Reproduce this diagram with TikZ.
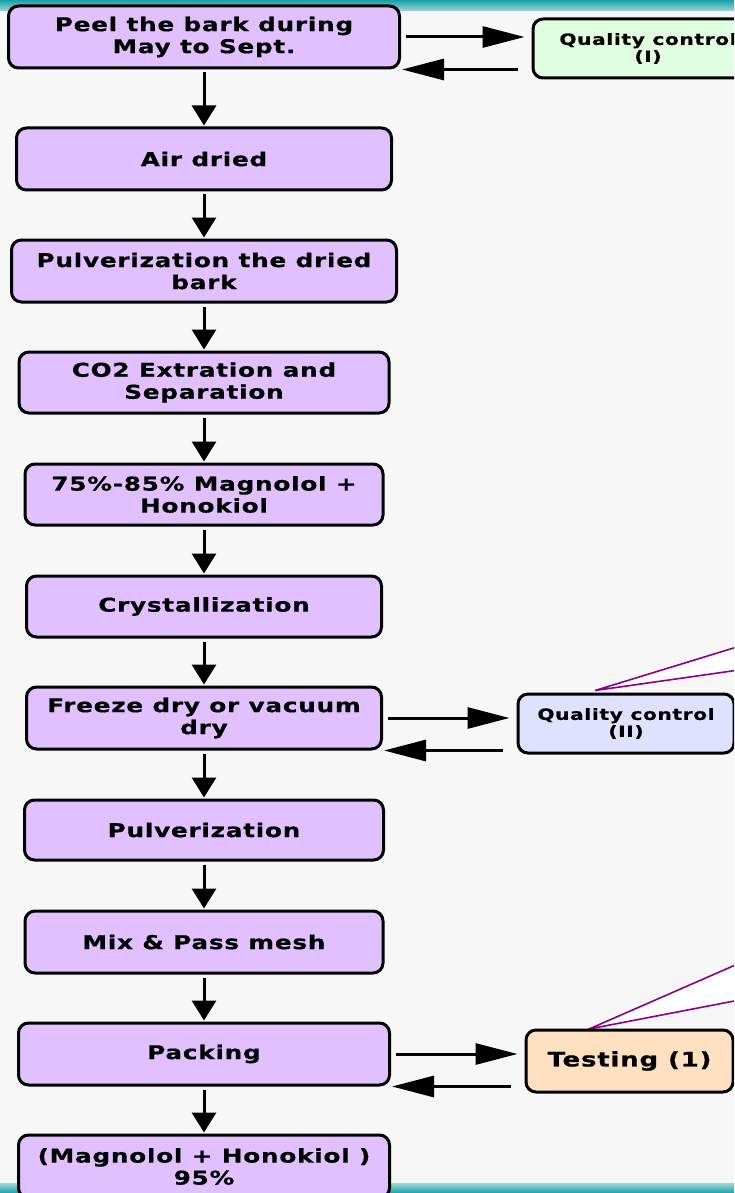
\documentclass[tikz,border=0pt]{standalone}
\usepackage{fontspec}
\setmainfont{DejaVu Sans}[FakeStretch=1.3,LetterSpace=4,FakeBold=0.6]
\usetikzlibrary{arrows.meta}
\definecolor{stagefill}{RGB}{224,192,255}
\definecolor{qcgreen}{RGB}{224,255,224}
\definecolor{qcblue}{RGB}{224,224,255}
\definecolor{testfill}{RGB}{255,224,192}
\definecolor{pagebg}{RGB}{247,247,247}
\definecolor{band}{RGB}{22,162,168}
\definecolor{bandlight}{RGB}{160,214,216}
\definecolor{callout}{RGB}{139,0,139}

\begin{document}
\begin{tikzpicture}[x=1pt,y=-1pt,
    stage/.style={draw,line width=3pt,rounded corners=10pt,fill=stagefill,
        align=center,inner sep=0pt,minimum height=62pt,
        font=\fontsize{19}{22}\selectfont\bfseries},
    check/.style={draw,line width=3pt,rounded corners=10pt,
        align=center,inner sep=0pt,minimum height=59pt,
        font=\fontsize{15.5}{17}\selectfont\bfseries},
    flow/.style={line width=3pt,-{Triangle[length=20pt,width=24pt]},
        shorten <=3pt,shorten >=1pt},
    go/.style={line width=3pt,-{Triangle[length=42pt,width=21pt]},
        shorten <=5pt,shorten >=7pt},
    back/.style={line width=3pt,-{Triangle[length=42pt,width=21pt]},
        shorten <=14pt,shorten >=1pt},
    wedge/.style={draw=callout,line width=1.6pt,fill=white,line join=miter}]
    \useasboundingbox (0,0) rectangle (734,1193);
    \clip (0,0) rectangle (734,1193);
    % Page and bands
    \fill[pagebg] (0,0) rectangle (734,1193);
    \shade[top color=band,bottom color=bandlight] (0,0) rectangle (734,11);
    \shade[top color=bandlight,bottom color=band] (0,1183) rectangle (734,1193);
    % Callout wedges coming in from the right
    \draw[wedge] (595,690.5) -- (900,597) -- (900,647) -- cycle;
    \draw[wedge] (589,1029) -- (900,893) -- (900,969) -- cycle;
    % Process stages
    \node[stage,minimum width=391pt] (Peel) at (204,37) {Peel the bark during\\May to Sept.};
    \node[stage,minimum width=375pt] (Dry) at (204,159) {Air dried};
    \node[stage,minimum width=385pt] (Grind) at (204,271) {Pulverization the dried\\bark};
    \node[stage,minimum width=370pt,minimum height=61pt] (COtwo) at (204,382.5) {CO2 Extration and\\Separation};
    \node[stage,minimum width=358pt,minimum height=61pt] (Crude) at (204,494.5) {75\%-85\% Magnolol +\\Honokiol};
    \node[stage,minimum width=355pt,minimum height=61pt] (Cryst) at (204,606.5) {Crystallization};
    \node[stage,minimum width=355pt] (Freeze) at (204,718) {Freeze dry or vacuum\\dry};
    \node[stage,minimum width=359pt,minimum height=60pt] (Pulv) at (204,830) {Pulverization};
    \node[stage,minimum width=358pt] (Mix) at (204,942) {Mix \& Pass mesh};
    \node[stage,minimum width=371pt] (Pack) at (204,1054) {Packing};
    \node[stage,minimum width=371pt,minimum height=63pt] (Final) at (204,1166.5) {(Magnolol + Honokiol )\\95\%};
    % Checks on the right
    \node[check,fill=qcgreen,minimum width=230pt] (QCA) at (648,48.5) {Quality control\\(I)};
    \node[check,fill=qcblue,minimum width=216pt] (QCB) at (626,723.5) {Quality control\\(II)};
    \node[check,fill=testfill,minimum width=207pt,minimum height=62pt,
        font=\fontsize{20}{22}\selectfont\bfseries] (Test) at (629.5,1061) {Testing (1)};
    % Main flow
    \draw[flow] (Peel) -- (Dry);
    \draw[flow] (Dry) -- (Grind);
    \draw[flow] (Grind) -- (COtwo);
    \draw[flow] (COtwo) -- (Crude);
    \draw[flow] (Crude) -- (Cryst);
    \draw[flow] (Cryst) -- (Freeze);
    \draw[flow] (Freeze) -- (Pulv);
    \draw[flow] (Pulv) -- (Mix);
    \draw[flow] (Mix) -- (Pack);
    \draw[flow] (Pack) -- (Final);
    % To the checks and back
    \draw[go] (Peel.east) -- (Peel.east -| QCA.west);
    \draw[back] (Peel.south east -| QCA.west) -- (Peel.south east);
    \draw[go] (Freeze.east) -- (Freeze.east -| QCB.west);
    \draw[back] (Freeze.south east -| QCB.west) -- (Freeze.south east);
    \draw[go] (Pack.east) -- (Pack.east -| Test.west);
    \draw[back] (Pack.south east -| Test.west) -- (Pack.south east);
\end{tikzpicture}
\end{document}
